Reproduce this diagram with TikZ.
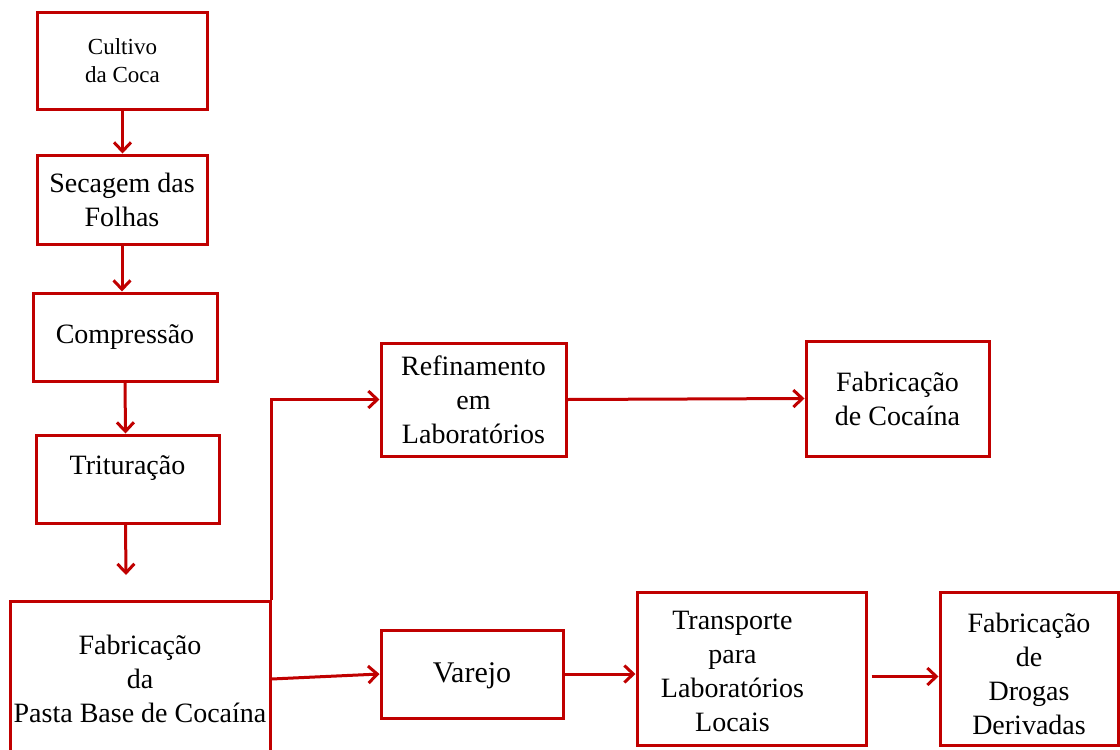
\documentclass[tikz,border=0pt]{standalone}
\usepackage{fontspec}
\setmainfont{Liberation Serif}
\usepackage{xcolor}
\usetikzlibrary{arrows.meta}
\definecolor{flowred}{RGB}{192,0,0}

\begin{document}
\begin{tikzpicture}[x=1pt, y=-1pt,
    stage/.style={draw=flowred, line width=3pt, align=center, inner sep=0pt,
      font=\fontsize{28}{34}\selectfont},
    flow/.style={-{Straight Barb[length=9pt,width=17pt]}, draw=flowred, line width=3pt}]
  \useasboundingbox (0,0) rectangle (1120,750);
  \clip (0,0) rectangle (1120,750);

  % Left column
  \node[stage, minimum width=170, minimum height=97, font=\fontsize{23}{28}\selectfont]
    (cultivo) at (122.5,60.5) {Cultivo\\da Coca};
  \node[stage, minimum width=170, minimum height=89] (secagem) at (122,199.5) {Secagem das\\Folhas};
  \node[stage, minimum width=184, minimum height=88] (compressao) at (125,337) {Compressão};
  \node[stage, minimum width=183, text height=39pt, text depth=49pt] (trituracao) at (127.5,479) {Trituração};
  \node[stage, minimum width=260, minimum height=156] (pasta) at (140,679)
    {Fabricação\\da\\Pasta Base de Cocaína};
  \coordinate (pastaIn) at (126,575);

  % Upper branch
  \node[stage, minimum width=185, minimum height=113] (refino) at (473.5,399.5)
    {Refinamento\\em\\Laboratórios};
  \node[stage, minimum width=183, minimum height=115] (cocaina) at (897.5,398.5)
    {Fabricação\\de Cocaína};

  % Lower branch
  \node[stage, minimum width=182, minimum height=88, font=\fontsize{30}{36}\selectfont]
    (varejo) at (472,674) {\raisebox{0pt}[\dimexpr\height+4pt\relax][\depth]{Varejo}};
  \node[stage, minimum width=229, minimum height=153] (transporte) at (751.5,668.5)
    {\raisebox{0pt}[\dimexpr\height+10pt\relax][\depth]{%
      \begin{tabular}{@{}c@{}}Transporte\\para\\Laboratórios\\Locais\end{tabular}}\hspace{38pt}};
  \node[stage, minimum width=178, minimum height=153] (derivadas) at (1029,668.5)
    {\raisebox{0pt}[\dimexpr\height+16pt\relax][\depth]{%
      \begin{tabular}{@{}c@{}}Fabricação\\de\\Drogas\\Derivadas\end{tabular}}};

  % Arrows
  \draw[flow] (cultivo.south) -- (cultivo.south |- secagem.north);
  \draw[flow] (secagem.south) -- (secagem.south |- compressao.north);
  \draw[flow] (compressao.south) -- ([xshift=-2pt]trituracao.north);
  \draw[flow] ([xshift=-2pt]trituracao.south) -- (pastaIn);
  \draw[flow] (pasta.north east) |- (refino.west);
  \draw[flow] (pasta.east) -- (varejo.west);
  \draw[flow] (refino.east) -- (cocaina.west);
  \draw[flow] (varejo.east) -- (transporte.west |- varejo.east);
  \draw[flow] ([xshift=4pt, yshift=-8pt]transporte.east) -- ([yshift=-8pt]derivadas.west);

\end{tikzpicture}
\end{document}
